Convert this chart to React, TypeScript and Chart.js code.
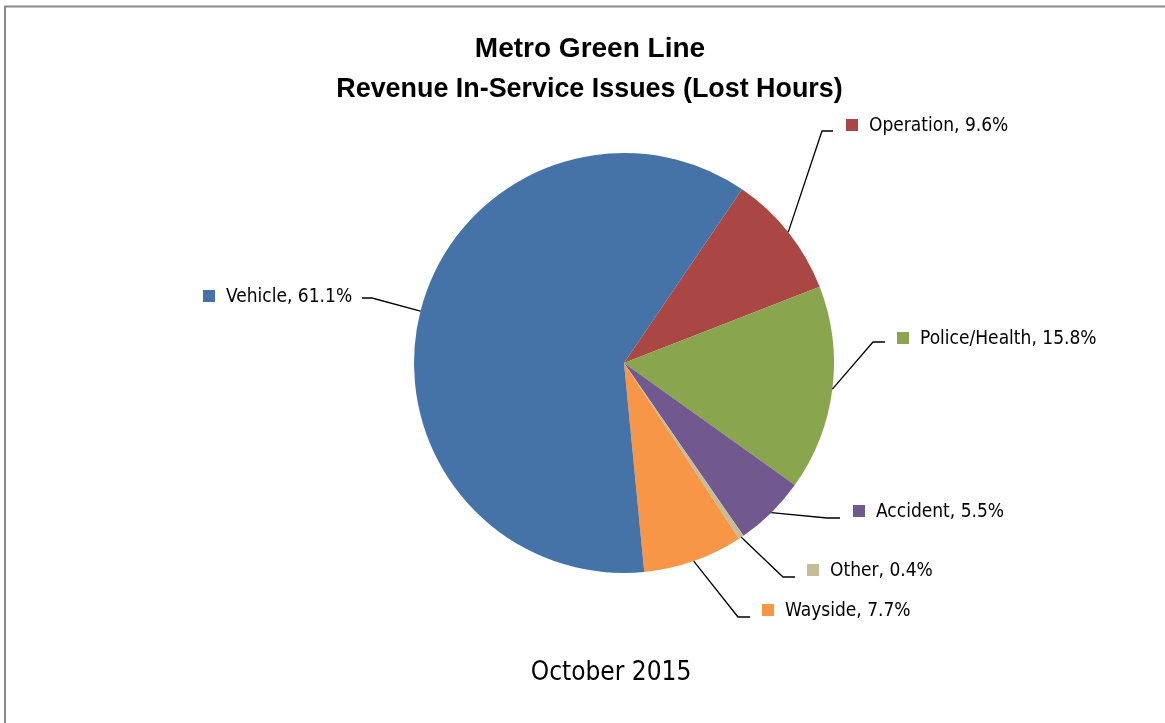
import React, { useEffect, useRef } from "react";
import { Chart, registerables } from "chart.js";

Chart.register(...registerables);

const titleLines = ["Metro Green Line", "Revenue In-Service Issues (Lost Hours)"];
const subtitle = "October 2015";
const categories = ["Operation", "Police/Health", "Accident", "Other", "Wayside", "Vehicle"];
const shares = [9.6, 15.8, 5.5, 0.4, 7.7, 61.1];
const colors = ["#AA4643", "#89A54E", "#71588F", "#C4BD97", "#F79646", "#4572A7"];
// label layout: [square left x, square centre y, elbow x, elbow y, line end x]
const labelSquareX = [846, 897, 853, 807, 762, 203];
const labelCenterY = [125, 338, 511, 570, 610, 296];
const elbowX = [822, 873, 827, 783, 738, 372];
const elbowY = [131, 342, 518, 577, 617, 298];
const lineEndX = [833, 885, 840, 795, 750, 362];

const LABEL_FONT = "19px 'DejaVu Sans Condensed', 'DejaVu Sans', sans-serif";
const TITLE_FONT = "bold 28px 'Liberation Sans Narrow', 'Arial Narrow', 'Liberation Sans', sans-serif";
const SUB_FONT = "26px 'DejaVu Sans Condensed', 'DejaVu Sans', sans-serif";

const decorPlugin = {
  id: "decor",
  afterDraw(chart: any) {
    const ctx = chart.ctx as CanvasRenderingContext2D;
    ctx.save();
    // outer border
    ctx.strokeStyle = "#898989";
    ctx.lineWidth = 2;
    ctx.strokeRect(5, 6.5, 1200, 760);
    // title
    ctx.fillStyle = "#000";
    ctx.font = TITLE_FONT;
    ctx.textAlign = "center";
    ctx.textBaseline = "alphabetic";
    ctx.fillText(titleLines[0], 590, 57);
    ctx.save();
    ctx.translate(589.5, 97);
    ctx.scale(0.96, 1);
    ctx.fillText(titleLines[1], 0, 0);
    ctx.restore();
    // subtitle
    ctx.font = SUB_FONT;
    ctx.fillText(subtitle, 611, 680);
    // leaders and labels
    const meta = chart.getDatasetMeta(0);
    ctx.font = LABEL_FONT;
    ctx.textAlign = "left";
    ctx.textBaseline = "middle";
    meta.data.forEach((arc: any, i: number) => {
      const p = arc.getProps(["x", "y", "startAngle", "endAngle", "outerRadius"], true);
      const mid = (p.startAngle + p.endAngle) / 2;
      const ax = p.x + Math.cos(mid) * p.outerRadius;
      const ay = p.y + Math.sin(mid) * p.outerRadius;
      ctx.strokeStyle = "#000";
      ctx.lineWidth = 1.3;
      ctx.beginPath();
      ctx.moveTo(ax, ay);
      ctx.lineTo(elbowX[i], elbowY[i]);
      ctx.lineTo(lineEndX[i], elbowY[i]);
      ctx.stroke();
      ctx.fillStyle = colors[i];
      ctx.fillRect(labelSquareX[i], labelCenterY[i] - 6, 12, 12);
      ctx.fillStyle = "#000";
      ctx.fillText(`${categories[i]}, ${shares[i].toFixed(1)}%`, labelSquareX[i] + 23, labelCenterY[i] + 1);
    });
    ctx.restore();
  },
};

export default function App() {
  const ref = useRef<HTMLCanvasElement | null>(null);
  useEffect(() => {
    if (!ref.current) return;
    const chart = new Chart(ref.current, {
      type: "pie",
      data: {
        labels: categories,
        datasets: [
          {
            data: shares,
            backgroundColor: colors,
            borderWidth: 0,
          },
        ],
      },
      options: {
        responsive: false,
        animation: false,
        rotation: 34.2,
        layout: { padding: { left: 414, right: 331, top: 153, bottom: 150 } },
        plugins: {
          legend: { display: false },
          title: { display: false },
          tooltip: { enabled: false },
        },
      },
      plugins: [decorPlugin],
    });
    return () => chart.destroy();
  }, []);
  return (
    <div style={{ position: "absolute", left: 0, top: 0, width: 1165, height: 723, background: "#fff" }}>
      <canvas ref={ref} width={1165} height={723} style={{ display: "block" }} />
    </div>
  );
}
